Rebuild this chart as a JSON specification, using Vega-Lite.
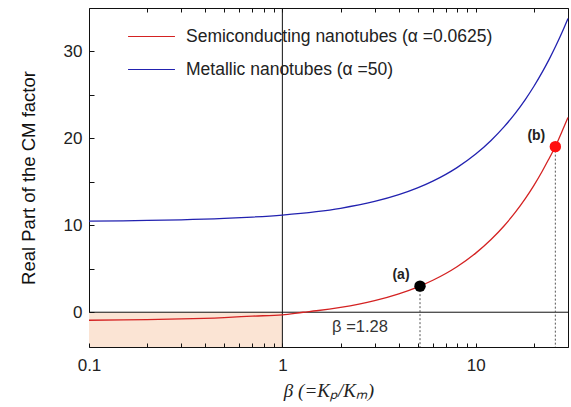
{
  "$schema": "https://vega.github.io/schema/vega-lite/v6.json",
  "width": 479,
  "height": 339,
  "autosize": {"type": "none"},
  "padding": {"left": 89, "top": 8, "right": 3, "bottom": 60},
  "background": "white",
  "config": {
    "view": {"stroke": "#111", "strokeWidth": 1},
    "axis": {"grid": false, "domainColor": "#111", "tickColor": "#111", "tickWidth": 1, "labelFont": "Liberation Sans", "labelFontSize": 17, "labelColor": "#222", "titleFontWeight": "normal"}
  },
  "datasets": {
    "curves": [
      {"beta": 0.1, "cm": -0.92, "series": "Semiconducting nanotubes (α =0.0625)"},
      {"beta": 0.15, "cm": -0.88, "series": "Semiconducting nanotubes (α =0.0625)"},
      {"beta": 0.2, "cm": -0.84, "series": "Semiconducting nanotubes (α =0.0625)"},
      {"beta": 0.3, "cm": -0.77, "series": "Semiconducting nanotubes (α =0.0625)"},
      {"beta": 0.5, "cm": -0.61, "series": "Semiconducting nanotubes (α =0.0625)"},
      {"beta": 0.7, "cm": -0.45, "series": "Semiconducting nanotubes (α =0.0625)"},
      {"beta": 1, "cm": -0.3, "series": "Semiconducting nanotubes (α =0.0625)"},
      {"beta": 1.28, "cm": 0.0, "series": "Semiconducting nanotubes (α =0.0625)"},
      {"beta": 1.5, "cm": 0.17, "series": "Semiconducting nanotubes (α =0.0625)"},
      {"beta": 2, "cm": 0.56, "series": "Semiconducting nanotubes (α =0.0625)"},
      {"beta": 3, "cm": 1.34, "series": "Semiconducting nanotubes (α =0.0625)"},
      {"beta": 4, "cm": 2.12, "series": "Semiconducting nanotubes (α =0.0625)"},
      {"beta": 5, "cm": 2.9, "series": "Semiconducting nanotubes (α =0.0625)"},
      {"beta": 6, "cm": 3.68, "series": "Semiconducting nanotubes (α =0.0625)"},
      {"beta": 7, "cm": 4.46, "series": "Semiconducting nanotubes (α =0.0625)"},
      {"beta": 8, "cm": 5.24, "series": "Semiconducting nanotubes (α =0.0625)"},
      {"beta": 10, "cm": 6.8, "series": "Semiconducting nanotubes (α =0.0625)"},
      {"beta": 12, "cm": 8.36, "series": "Semiconducting nanotubes (α =0.0625)"},
      {"beta": 14, "cm": 9.92, "series": "Semiconducting nanotubes (α =0.0625)"},
      {"beta": 16, "cm": 11.48, "series": "Semiconducting nanotubes (α =0.0625)"},
      {"beta": 18, "cm": 13.04, "series": "Semiconducting nanotubes (α =0.0625)"},
      {"beta": 20, "cm": 14.6, "series": "Semiconducting nanotubes (α =0.0625)"},
      {"beta": 22, "cm": 16.16, "series": "Semiconducting nanotubes (α =0.0625)"},
      {"beta": 24, "cm": 17.72, "series": "Semiconducting nanotubes (α =0.0625)"},
      {"beta": 26, "cm": 19.2, "series": "Semiconducting nanotubes (α =0.0625)"},
      {"beta": 28, "cm": 20.84, "series": "Semiconducting nanotubes (α =0.0625)"},
      {"beta": 30, "cm": 22.4, "series": "Semiconducting nanotubes (α =0.0625)"},
      {"beta": 0.1, "cm": 10.48, "series": "Metallic nanotubes (α =50)"},
      {"beta": 0.15, "cm": 10.52, "series": "Metallic nanotubes (α =50)"},
      {"beta": 0.2, "cm": 10.56, "series": "Metallic nanotubes (α =50)"},
      {"beta": 0.3, "cm": 10.63, "series": "Metallic nanotubes (α =50)"},
      {"beta": 0.5, "cm": 10.79, "series": "Metallic nanotubes (α =50)"},
      {"beta": 0.7, "cm": 10.95, "series": "Metallic nanotubes (α =50)"},
      {"beta": 1, "cm": 11.18, "series": "Metallic nanotubes (α =50)"},
      {"beta": 1.5, "cm": 11.57, "series": "Metallic nanotubes (α =50)"},
      {"beta": 2, "cm": 11.96, "series": "Metallic nanotubes (α =50)"},
      {"beta": 3, "cm": 12.74, "series": "Metallic nanotubes (α =50)"},
      {"beta": 4, "cm": 13.52, "series": "Metallic nanotubes (α =50)"},
      {"beta": 5, "cm": 14.3, "series": "Metallic nanotubes (α =50)"},
      {"beta": 6, "cm": 15.08, "series": "Metallic nanotubes (α =50)"},
      {"beta": 7, "cm": 15.86, "series": "Metallic nanotubes (α =50)"},
      {"beta": 8, "cm": 16.64, "series": "Metallic nanotubes (α =50)"},
      {"beta": 10, "cm": 18.2, "series": "Metallic nanotubes (α =50)"},
      {"beta": 12, "cm": 19.76, "series": "Metallic nanotubes (α =50)"},
      {"beta": 14, "cm": 21.32, "series": "Metallic nanotubes (α =50)"},
      {"beta": 16, "cm": 22.88, "series": "Metallic nanotubes (α =50)"},
      {"beta": 18, "cm": 24.44, "series": "Metallic nanotubes (α =50)"},
      {"beta": 20, "cm": 26.0, "series": "Metallic nanotubes (α =50)"},
      {"beta": 22, "cm": 27.56, "series": "Metallic nanotubes (α =50)"},
      {"beta": 24, "cm": 29.12, "series": "Metallic nanotubes (α =50)"},
      {"beta": 26, "cm": 30.68, "series": "Metallic nanotubes (α =50)"},
      {"beta": 28, "cm": 32.24, "series": "Metallic nanotubes (α =50)"},
      {"beta": 30, "cm": 33.8, "series": "Metallic nanotubes (α =50)"}
    ],
    "points": [
      {"beta": 5.15, "cm": 3.0, "label": "(a)", "bottom": -4},
      {"beta": 25.8, "cm": 19.05, "label": "(b)", "bottom": -4}
    ],
    "region": [{"b0": 0.1, "b1": 1, "c0": -4, "c1": 0}],
    "refs": [{"beta": 1, "cm": 0, "text": "β =1.28", "tb": 2.52, "tc": -1.73}]
  },
  "resolve": {"axis": {"x": "independent"}},
  "layer": [
    {
      "data": {"name": "region"},
      "mark": {"type": "rect", "color": "#fbe4d4"},
      "encoding": {
        "x": {"field": "b0", "type": "quantitative", "scale": {"type": "log", "domain": [0.1, 30], "nice": false},
          "axis": {"orient": "top", "title": null, "labels": false, "domain": false, "ticks": true, "zindex": 1,
            "values": [0.1,0.2,0.3,0.4,0.5,0.6,0.7,0.8,0.9,1,2,3,4,5,6,7,8,9,10,20,30],
            "tickSize": -4}},
        "x2": {"field": "b1"},
        "y": {"field": "c0", "type": "quantitative", "scale": {"domain": [-4, 35], "nice": false},
          "axis": {"title": "Real Part of the CM factor", "titleFont": "Liberation Sans", "titleFontSize": 18.5, "titleColor": "#111", "titlePadding": 25,
            "domain": false, "zindex": 1,
            "values": [0, 5, 10, 15, 20, 25, 30],
            "labelExpr": "datum.value % 10 == 0 ? datum.label : ''",
            "labelPadding": 12,
            "tickSize": -5}},
        "y2": {"field": "c1"}
      }
    },
    {
      "data": {"name": "refs"},
      "mark": {"type": "rule", "color": "#111", "strokeWidth": 1},
      "encoding": {"y": {"field": "cm", "type": "quantitative"}}
    },
    {
      "data": {"name": "refs"},
      "mark": {"type": "rule", "color": "#111", "strokeWidth": 1},
      "encoding": {"x": {"field": "beta", "type": "quantitative", "axis": null}}
    },
    {
      "data": {"name": "refs"},
      "mark": {"type": "text", "font": "Liberation Sans", "fontSize": 16.5, "color": "#333"},
      "encoding": {
        "x": {"field": "tb", "type": "quantitative", "axis": null},
        "y": {"field": "tc", "type": "quantitative"},
        "text": {"field": "text"}
      }
    },
    {
      "data": {"name": "points"},
      "mark": {"type": "rule", "color": "#555", "strokeDash": [2, 2], "strokeWidth": 1},
      "encoding": {
        "x": {"field": "beta", "type": "quantitative", "axis": null},
        "y": {"field": "cm", "type": "quantitative"},
        "y2": {"field": "bottom"}
      }
    },
    {
      "data": {"name": "curves"},
      "mark": {"type": "line", "strokeWidth": 1.3, "interpolate": "monotone"},
      "encoding": {
        "x": {"field": "beta", "type": "quantitative",
          "axis": {"orient": "bottom", "title": "β (=Kₚ/Kₘ)", "titleFont": "Liberation Serif", "titleFontStyle": "italic", "titleFontSize": 19, "titleColor": "#222", "titlePadding": 8,
            "domain": false, "ticks": true, "zindex": 1,
            "values": [0.1,0.2,0.3,0.4,0.5,0.6,0.7,0.8,0.9,1,2,3,4,5,6,7,8,9,10,20,30],
            "labelExpr": "datum.value == 0.1 || datum.value == 1 || datum.value == 10 ? datum.label : ''",
            "labelPadding": 14, "labelFlush": false,
            "tickSize": -4}},
        "y": {"field": "cm", "type": "quantitative"},
        "color": {"field": "series", "type": "nominal",
          "scale": {"domain": ["Semiconducting nanotubes (α =0.0625)", "Metallic nanotubes (α =50)"], "range": ["#d42222", "#2222b0"]},
          "legend": {"orient": "none", "legendX": 38, "legendY": 4, "title": null, "symbolType": "stroke", "symbolSize": 2200, "symbolStrokeWidth": 1.2,
            "labelFont": "Liberation Sans", "labelFontSize": 17.5, "labelColor": "#222", "labelOffset": 10, "labelLimit": 0, "rowPadding": 0, "padding": 0}}
      }
    },
    {
      "data": {"name": "points"},
      "mark": {"type": "circle", "size": 130, "opacity": 1},
      "encoding": {
        "x": {"field": "beta", "type": "quantitative", "axis": null},
        "y": {"field": "cm", "type": "quantitative"},
        "color": {"condition": {"test": "datum.label == '(a)'", "value": "#000000"}, "value": "#ff1010"}
      }
    },
    {
      "data": {"name": "points"},
      "mark": {"type": "text", "font": "Liberation Sans", "fontWeight": "bold", "fontSize": 14, "color": "#222", "dx": -19, "dy": -11},
      "encoding": {
        "x": {"field": "beta", "type": "quantitative", "axis": null},
        "y": {"field": "cm", "type": "quantitative"},
        "text": {"field": "label"}
      }
    }
  ]
}
